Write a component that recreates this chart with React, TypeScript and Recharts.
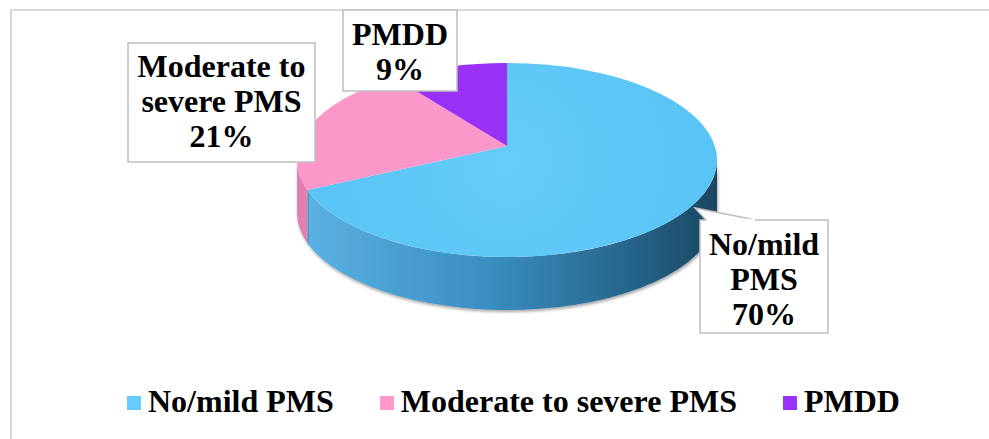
import { PieChart, Pie, Cell, Legend } from 'recharts';

const CATEGORIES = ['No/mild PMS', 'Moderate to severe PMS', 'PMDD'];
const PERCENTS = [70, 21, 9];
const LABEL_LINES = [['No/mild', 'PMS'], ['Moderate to', 'severe PMS'], ['PMDD']];

const TOP_COLORS = ['url(#topBlue)', '#fb98c9', '#9a31f6'];
const SIDE_COLORS = ['url(#sideBlue)', '#e27fb1', '#7422c4'];
const LEGEND_COLORS = ['#66ccff', '#ff99cc', '#9933ff'];

const W = 989;
const H = 439;
const CX = 507;
const CY = 160;
const R = 210;
const TILT = 97 / 210; // vertical squash of the top face
const DEPTH = 53; // thickness of the disc
const LIFT = 14; // perspective nudge for the sector apex
const FONT = 'Liberation Serif';
const FONT_SIZE = 32;

// callout boxes around the slice labels
const BOXES = [
  { x: 700, y: 220, w: 128, h: 113, base: 255, tip: [695, 208] as [number, number] },
  { x: 128, y: 43, w: 187, h: 119, base: 77, tip: null },
  { x: 343, y: 10, w: 114, h: 81, base: 45, tip: null },
];
const LINE_H = 35;

const data = CATEGORIES.map((name, i) => ({ name, value: PERCENTS[i] }));

const RAD = Math.PI / 180;

const onRim = (cx: number, cy: number, r: number, deg: number, dy = 0) => [
  cx + r * Math.cos(deg * RAD),
  cy - r * TILT * Math.sin(deg * RAD) + dy,
];

// parts of an angular range that face the viewer (lower half of the ellipse)
const frontRanges = (a: number, b: number) => {
  const lo = Math.min(a, b);
  const hi = Math.max(a, b);
  const out: [number, number][] = [];
  for (let n = -2; n <= 1; n++) {
    const s = Math.max(lo, 180 + 360 * n);
    const e = Math.min(hi, 360 + 360 * n);
    if (e > s) out.push([s, e]);
  }
  return out;
};

const Slice3D = (props: any) => {
  const { cx, cy, outerRadius, startAngle, endAngle, fill } = props;
  const idx = TOP_COLORS.indexOf(fill);
  const rx = outerRadius;
  const ry = outerRadius * TILT;

  const sides = frontRanges(startAngle, endAngle).map(([a0, a1], k) => {
    const [x0, y0] = onRim(cx, cy, rx, a0);
    const [x1, y1] = onRim(cx, cy, rx, a1);
    const d = `M${x0},${y0} A${rx},${ry} 0 0 0 ${x1},${y1} L${x1},${y1 + DEPTH} A${rx},${ry} 0 0 1 ${x0},${y0 + DEPTH} Z`;
    return <path key={k} d={d} fill={SIDE_COLORS[idx]} filter="url(#rimShadow)" />;
  });

  const [sx, sy] = onRim(cx, cy, rx, startAngle);
  const [ex, ey] = onRim(cx, cy, rx, endAngle);
  const large = Math.abs(endAngle - startAngle) > 180 ? 1 : 0;
  const sweep = endAngle < startAngle ? 1 : 0;
  const top = `M${cx},${cy - LIFT} L${sx},${sy} A${rx},${ry} 0 ${large} ${sweep} ${ex},${ey} Z`;

  return (
    <g>
      {sides}
      <path d={top} fill={fill} />
    </g>
  );
};

const renderLabel = (props: any) => {
  const { index, value } = props;
  const box = BOXES[index];
  const lines = [...LABEL_LINES[index], `${value}%`];
  let pointer = null;
  if (box.tip) {
    const [tx, ty] = box.tip;
    const b0 = box.x + 6;
    const b1 = box.x + 56;
    pointer = (
      <g>
        <polygon points={`${b0},${box.y} ${tx},${ty} ${b1},${box.y}`} fill="#fff" stroke="none" />
        <polyline points={`${b0},${box.y} ${tx},${ty} ${b1},${box.y}`} fill="none" stroke="#bfbfbf" strokeWidth={1.5} />
      </g>
    );
  }
  return (
    <g key={`lbl-${index}`}>
      <rect x={box.x} y={box.y} width={box.w} height={box.h} fill="#fff" stroke="#bfbfbf" strokeWidth={1.5} />
      {pointer}
      {box.tip && <line x1={box.x + 7} y1={box.y} x2={box.x + 55} y2={box.y} stroke="#fff" strokeWidth={2.5} />}
      {lines.map((t, i) => (
        <text
          key={i}
          x={box.x + box.w / 2}
          y={box.base + i * LINE_H}
          textAnchor="middle"
          style={{ fontFamily: FONT, fontWeight: 'bold', fontSize: FONT_SIZE }}
          fill="#000"
        >
          {t}
        </text>
      ))}
    </g>
  );
};

const renderLegend = () => (
  <div
    style={{
      display: 'flex',
      gap: 46,
      fontFamily: FONT,
      fontWeight: 'bold',
      fontSize: FONT_SIZE,
      lineHeight: '32px',
      color: '#000',
      whiteSpace: 'nowrap',
    }}
  >
    {CATEGORIES.map((name, i) => (
      <div key={name} style={{ display: 'flex', alignItems: 'flex-start' }}>
        <span
          style={{ display: 'inline-block', width: 14, height: 14, marginTop: 11, marginRight: 7, background: LEGEND_COLORS[i] }}
        />
        <span>{name}</span>
      </div>
    ))}
  </div>
);

const App = () => (
  <div style={{ position: 'absolute', left: 0, top: 0, width: W, height: H, background: '#fff', overflow: 'hidden' }}>
    <svg width={0} height={0} style={{ position: 'absolute' }}>
      <defs>
        <linearGradient id="sideBlue" gradientUnits="userSpaceOnUse" x1={CX - R} y1={0} x2={CX + R} y2={0}>
          <stop offset="0" stopColor="#5db2e4" />
          <stop offset="0.45" stopColor="#3a8fc2" />
          <stop offset="0.8" stopColor="#26648a" />
          <stop offset="1" stopColor="#1b4761" />
        </linearGradient>
        <radialGradient id="topBlue" gradientUnits="userSpaceOnUse" cx={CX} cy={CY} r={R}>
          <stop offset="0" stopColor="#66ccfa" />
          <stop offset="1" stopColor="#58c3f5" />
        </radialGradient>
        <filter id="rimShadow" x="-10%" y="-10%" width="120%" height="140%">
          <feDropShadow dx="1" dy="2" stdDeviation="1.5" floodColor="#000" floodOpacity="0.35" />
        </filter>
      </defs>
    </svg>
    {/* chart frame, only the top and left edges fall inside the view */}
    <div
      style={{
        position: 'absolute',
        left: 10,
        top: 9,
        width: W,
        height: H,
        borderTop: '2px solid #d9d9d9',
        borderLeft: '2px solid #d9d9d9',
      }}
    />
    <div style={{ position: 'absolute', left: 0, top: 0, fontFamily: FONT }}>
      <PieChart width={W} height={H} margin={{ top: 0, right: 0, bottom: 0, left: 0 }}>
        <Pie
          data={data}
          dataKey="value"
          nameKey="name"
          cx={CX}
          cy={CY}
          outerRadius={R}
          startAngle={90}
          endAngle={-270}
          stroke="none"
          shape={Slice3D}
          activeShape={Slice3D}
          inactiveShape={Slice3D}
          label={renderLabel}
          labelLine={false}
          isAnimationActive={false}
        >
          {data.map((d, i) => (
            <Cell key={d.name} fill={TOP_COLORS[i]} />
          ))}
        </Pie>
        <Legend content={renderLegend} wrapperStyle={{ left: 127, top: 385, width: 'auto', bottom: 'auto' }} />
      </PieChart>
    </div>
  </div>
);

export default App;
